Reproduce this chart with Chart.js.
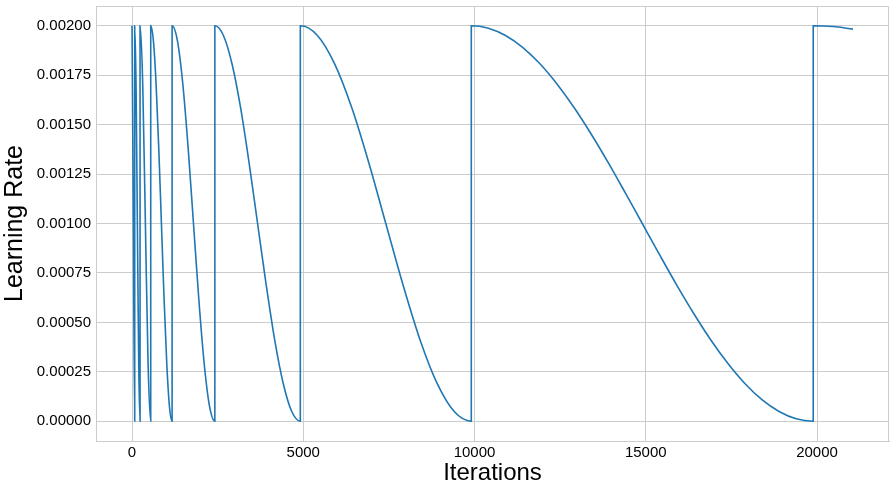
<!DOCTYPE html>
<html>
<head>
<meta charset="utf-8">
<script src="https://cdn.jsdelivr.net/npm/chart.js@4.4.1/dist/chart.umd.min.js"></script>
<style>
  html, body { margin: 0; padding: 0; background: #fff; }
</style>
</head>
<body>
<canvas id="lr" width="896" height="494"></canvas>
<script>
// Learning rate (cosine restarts, each cycle twice as long)
const iterations = [
    0, 39, 78,
    78, 117, 156, 195, 234,
    234, 312, 390, 468, 546,
    546, 624, 702, 780, 858, 936, 1014, 1092, 1170,
    1170, 1326, 1482, 1638, 1794, 1950, 2106, 2262, 2418,
    2418, 2668, 2917, 3167, 3416, 3666, 3916, 4165, 4415, 4664, 4914,
    4914, 5413, 5912, 6412, 6911, 7410, 7909, 8408, 8908, 9407, 9906,
    9906, 10405, 10904, 11404, 11903, 12402, 12901, 13400, 13900, 14399, 14898,
    15397, 15896, 16396, 16895, 17394, 17893, 18392, 18892, 19391, 19890,
    19890, 20470, 21050
];
const learningRate = [
    0.002, 0.001, 0,
    0.002, 0.001707, 0.001, 0.000293, 0,
    0.002, 0.001707, 0.001, 0.000293, 0,
    0.002, 0.001924, 0.001707, 0.001383, 0.001, 0.000617, 0.000293, 0.000076, 0,
    0.002, 0.001924, 0.001707, 0.001383, 0.001, 0.000617, 0.000293, 0.000076, 0,
    0.002, 0.001951, 0.001809, 0.001588, 0.001309, 0.001, 0.000691, 0.000412, 0.000191, 0.000049, 0,
    0.002, 0.001951, 0.001809, 0.001588, 0.001309, 0.001, 0.000691, 0.000412, 0.000191, 0.000049, 0,
    0.002, 0.001988, 0.001951, 0.001891, 0.001809, 0.001707, 0.001588, 0.001454, 0.001309, 0.001156, 0.001,
    0.000844, 0.000691, 0.000546, 0.000412, 0.000293, 0.000191, 0.000109, 0.000049, 0.000012, 0,
    0.002, 0.001996, 0.001983
];
const xTicks = [0, 5000, 10000, 15000, 20000];
const yTicks = [0, 0.00025, 0.0005, 0.00075, 0.001, 0.00125, 0.0015, 0.00175, 0.002];

const FONT = "'Liberation Sans', Arial, sans-serif";
const TEXT = '#000000';
const GRID = '#cccccc';

// top and right spines
const frame = {
    id: 'frame',
    beforeDatasetsDraw(chart) {
        const a = chart.chartArea;
        const ctx = chart.ctx;
        ctx.save();
        ctx.strokeStyle = GRID;
        ctx.lineWidth = 1;
        ctx.beginPath();
        ctx.moveTo(Math.round(a.left) + 0.5, Math.round(a.top) + 0.5);
        ctx.lineTo(Math.round(a.right) - 0.5, Math.round(a.top) + 0.5);
        ctx.lineTo(Math.round(a.right) - 0.5, Math.round(a.bottom) + 0.5);
        ctx.stroke();
        ctx.restore();
    }
};

new Chart(document.getElementById('lr'), {
    type: 'line',
    data: {
        datasets: [{
            data: iterations.map((x, i) => ({ x: x, y: learningRate[i] })),
            borderColor: '#1f77b4',
            borderWidth: 1.6,
            pointRadius: 0,
            fill: false,
            cubicInterpolationMode: 'monotone'
        }]
    },
    options: {
        responsive: false,
        animation: false,
        layout: { padding: { top: 6, right: 7, left: 0, bottom: 0 } },
        plugins: { legend: { display: false }, tooltip: { enabled: false } },
        scales: {
            x: {
                type: 'linear',
                min: -1052,
                max: 22102,
                afterBuildTicks: s => { s.ticks = xTicks.map(v => ({ value: v })); },
                afterFit: s => { s.height = 53; s.paddingLeft = 0; s.paddingRight = 0; },
                grid: { color: GRID, lineWidth: 1, drawTicks: false },
                border: { color: GRID },
                ticks: {
                    padding: 3, color: TEXT, maxRotation: 0, autoSkip: false,
                    font: { family: FONT, size: 15 },
                    callback: v => String(v)
                },
                title: {
                    display: true, text: 'Iterations', color: TEXT,
                    font: { family: FONT, size: 24 },
                    padding: { top: 0, bottom: 6 }
                }
            },
            y: {
                min: -0.0001,
                max: 0.0021,
                afterBuildTicks: s => { s.ticks = yTicks.map(v => ({ value: v })); },
                afterFit: s => { s.width = 96; s.paddingTop = 0; s.paddingBottom = 0; },
                grid: { color: GRID, lineWidth: 1, drawTicks: false },
                border: { color: GRID },
                ticks: {
                    padding: 5, color: TEXT, autoSkip: false,
                    font: { family: FONT, size: 15 },
                    callback: v => Number(v).toFixed(5)
                },
                title: {
                    display: true, text: 'Learning Rate', color: TEXT,
                    font: { family: FONT, size: 25 },
                    padding: { top: 0, bottom: 0 }
                }
            }
        }
    },
    plugins: [frame]
});
</script>
</body>
</html>
